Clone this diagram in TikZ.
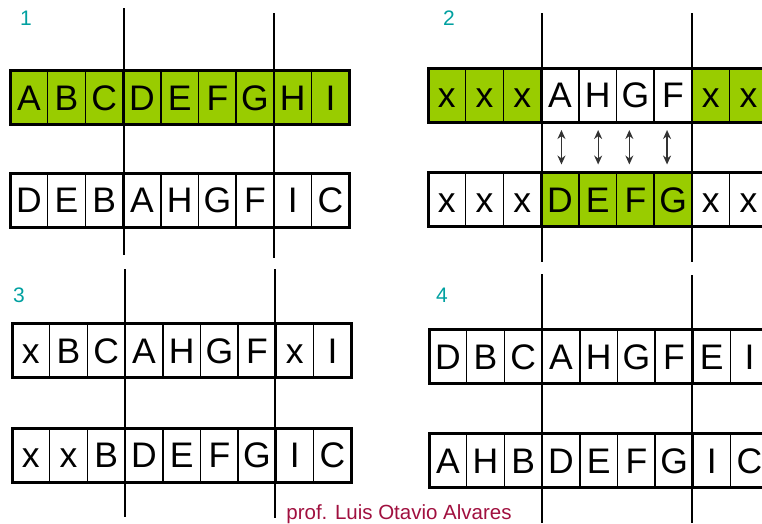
\documentclass[tikz,border=0pt]{standalone}
\usepackage{fontspec}
\setmainfont{Liberation Sans}
\usetikzlibrary{arrows.meta}
\definecolor{oxgreen}{HTML}{99CC00}
\definecolor{oxteal}{HTML}{00A0A0}
\definecolor{oxred}{HTML}{A0103F}

% one row of nine cells: name, left x, centre y, letter/fill list
\newcommand{\cellrow}[4]{%
  \foreach \t/\c [count=\i] in {#4}
    \node[cell, fill=\c] (#1\i) at ({#2+37.7*(\i-0.5)}, #3) {\t};
  \draw[rowframe] (#11.north west) rectangle (#19.south east);
}

\begin{document}
\begin{tikzpicture}[
  x=1pt, y=-1pt,
  cell/.style={
    rectangle, draw=black, line width=1.5pt,
    outer sep=0pt, inner sep=0pt,
    minimum width=37.7pt, minimum height=54pt,
    text height=25pt, text depth=0pt,
    font=\fontsize{35.5}{35.5}\selectfont
  },
  rowframe/.style={line width=3pt},
  cutthin/.style={line width=1.2pt},
  cutthick/.style={line width=2pt},
  stepnum/.style={font=\fontsize{21}{21}\selectfont, text=oxteal},
  swaparrow/.style={
    {Stealth[length=9pt,width=8pt]}-{Stealth[length=9pt,width=8pt]},
    line width=1.3pt, black!80, shorten <=8pt, shorten >=8pt
  }
]
  \useasboundingbox (0,0) rectangle (762,523);

  % Panel 1
  \node[stepnum] (n1) at (26,18) {1};
  \cellrow{p1t}{10}{97.5}{A/oxgreen,B/oxgreen,C/oxgreen,D/oxgreen,E/oxgreen,F/oxgreen,G/oxgreen,H/oxgreen,I/oxgreen}
  \cellrow{p1b}{10}{200}{D/white,E/white,B/white,A/white,H/white,G/white,F/white,I/white,C/white}
  \draw[cutthin] (124,8) -- (124,255);
  \draw[cutthick] (274,13) -- (274,258);

  % Panel 2
  \node[stepnum] (n2) at (449,18.5) {2};
  \cellrow{p2t}{428}{95}{x/oxgreen,x/oxgreen,x/oxgreen,A/white,H/white,G/white,F/white,x/oxgreen,x/oxgreen}
  \cellrow{p2b}{428}{199.5}{x/white,x/white,x/white,D/oxgreen,E/oxgreen,F/oxgreen,G/oxgreen,x/white,x/white}
  \draw[cutthick] (542,13) -- (542,262);
  \draw[cutthin] (692,13) -- (692,262);
  \foreach \i/\dx in {4/1.5,5/0.5,6/-6,7/-6}
    \draw[swaparrow] ([xshift=\dx pt]p2t\i.south) -- ([xshift=\dx pt]p2b\i.north);

  % Panel 3
  \node[stepnum] (n3) at (19,295.5) {3};
  \cellrow{p3t}{12}{350.5}{x/white,B/white,C/white,A/white,H/white,G/white,F/white,x/white,I/white}
  \cellrow{p3b}{12}{455}{x/white,x/white,B/white,D/white,E/white,F/white,G/white,I/white,C/white}
  \draw[cutthin] (125,269) -- (125,517);
  \draw[cutthick] (275,269) -- (275,518);

  % Panel 4
  \node[stepnum] (n4) at (442,295) {4};
  \cellrow{p4t}{429}{356.5}{D/white,B/white,C/white,A/white,H/white,G/white,F/white,E/white,I/white}
  \cellrow{p4b}{429}{460.5}{A/white,H/white,B/white,D/white,E/white,F/white,G/white,I/white,C/white}
  \draw[cutthick] (542,274) -- (542,523);
  \draw[cutthin] (692,275) -- (692,523);

  \node[font=\fontsize{20.5}{20.5}\selectfont, text=oxred, anchor=base] (credit) at (399,519)
    {prof. Luis Otavio Alvares};
\end{tikzpicture}
\end{document}
